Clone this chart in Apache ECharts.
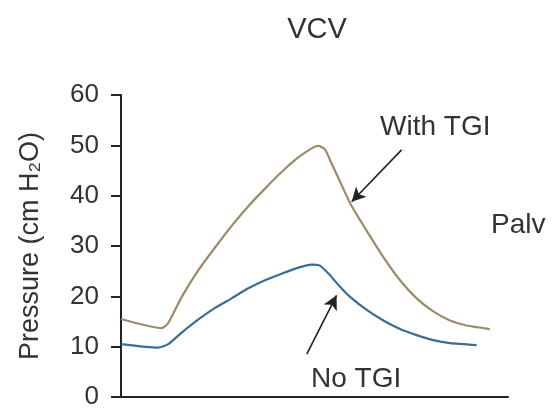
<!DOCTYPE html>
<html>
<head>
<meta charset="utf-8">
<script src="https://cdn.jsdelivr.net/npm/echarts@6/dist/echarts.min.js"></script>
<style>
html,body{margin:0;padding:0;background:#fff;}
#chart{width:559px;height:410px;}
</style>
</head>
<body>
<div id="chart"></div>
<script>
// Data (x in arbitrary time units 0-100, y in cm H2O)
const withTgiX = [0, 10.5, 12.2, 15.7, 20.0, 24.3, 28.6, 32.9, 37.2, 41.5, 45.8, 49.7, 51.0, 52.7, 54.0, 56.6, 59.2, 63.5, 67.8, 72.1, 76.4, 80.7, 85.0, 89.3, 95.3];
const withTgiY = [15.5, 13.7, 14.7, 19.9, 25.2, 29.7, 34.0, 37.9, 41.4, 44.7, 47.6, 49.6, 49.9, 49.2, 47.1, 42.8, 38.5, 33.0, 27.8, 23.2, 19.6, 17.0, 15.2, 14.2, 13.5];
const noTgiX = [0, 9.6, 12.2, 15.7, 20.0, 24.3, 28.6, 32.9, 37.2, 41.5, 45.8, 49.3, 51.4, 54.0, 56.6, 59.2, 63.5, 67.8, 72.1, 76.4, 80.7, 85.0, 91.9];
const noTgiY = [10.5, 9.8, 10.5, 12.8, 15.4, 17.7, 19.6, 21.6, 23.2, 24.5, 25.7, 26.3, 26.1, 24.2, 21.9, 19.9, 17.3, 15.2, 13.5, 12.3, 11.3, 10.7, 10.3];
const yTicks = [0, 10, 20, 30, 40, 50, 60];
const titleText = 'VCV';
const yName = 'Pressure (cm H\u2082O)';
const labels = ['With TGI', 'No TGI', 'Palv'];
// arrow annotations (data space): [from, to]
const arrowWith = [[72.5, 49.1], [59.6, 38.8]];
const arrowNo = [[48.0, 8.5], [55.7, 20.2]];

const FONT = '"Liberation Sans", Arial, Helvetica, sans-serif';
const chart = echarts.init(document.getElementById('chart'));

function pairs(xs, ys) { return xs.map((x, i) => [x, ys[i]]); }

function arrowMark(a) {
  return {
    silent: true,
    symbol: ['none', 'arrow'],
    symbolSize: [11, 14],
    label: {show: false},
    lineStyle: {color: '#222', width: 1.6, type: 'solid'},
    data: [[{coord: a[0]}, {coord: a[1]}]]
  };
}

chart.setOption({
  animation: false,
  backgroundColor: '#fff',
  title: {
    text: titleText,
    left: 312,
    top: 10,
    textAlign: 'center',
    textStyle: {fontFamily: FONT, fontSize: 29, fontWeight: 'normal', color: '#333'}
  },
  grid: {left: 121, right: 51, top: 95, bottom: 8, containLabel: false},
  xAxis: {
    type: 'value', min: 0, max: 100,
    axisLine: {show: true, lineStyle: {color: '#222', width: 2}},
    axisTick: {show: false}, axisLabel: {show: false}, splitLine: {show: false}
  },
  yAxis: {
    type: 'value', min: yTicks[0], max: yTicks[yTicks.length - 1], interval: 10,
    name: yName, nameLocation: 'middle', nameGap: 77,
    nameTextStyle: {fontFamily: FONT, fontSize: 27, color: '#333'},
    axisLine: {show: true, lineStyle: {color: '#222', width: 2}},
    axisTick: {show: true, inside: false, length: 10, lineStyle: {color: '#222', width: 2}},
    axisLabel: {fontFamily: FONT, fontSize: 26, color: '#333', margin: 22},
    splitLine: {show: false}
  },
  series: [
    {
      name: labels[0], type: 'line', data: pairs(withTgiX, withTgiY),
      showSymbol: false, smooth: 0.2,
      lineStyle: {color: '#9e8a6a', width: 2.2},
      markLine: arrowMark(arrowWith)
    },
    {
      name: labels[1], type: 'line', data: pairs(noTgiX, noTgiY),
      showSymbol: false, smooth: 0.2,
      lineStyle: {color: '#3f6c93', width: 2.2},
      markLine: arrowMark(arrowNo)
    }
  ],
  graphic: [
    {type: 'text', left: 380, top: 113, style: {text: labels[0], font: '28px ' + FONT, fill: '#333'}},
    {type: 'text', left: 311, top: 365, style: {text: labels[1], font: '28px ' + FONT, fill: '#333'}},
    {type: 'text', left: 491, top: 211, style: {text: labels[2], font: '28px ' + FONT, fill: '#333'}}
  ]
});
</script>
</body>
</html>
